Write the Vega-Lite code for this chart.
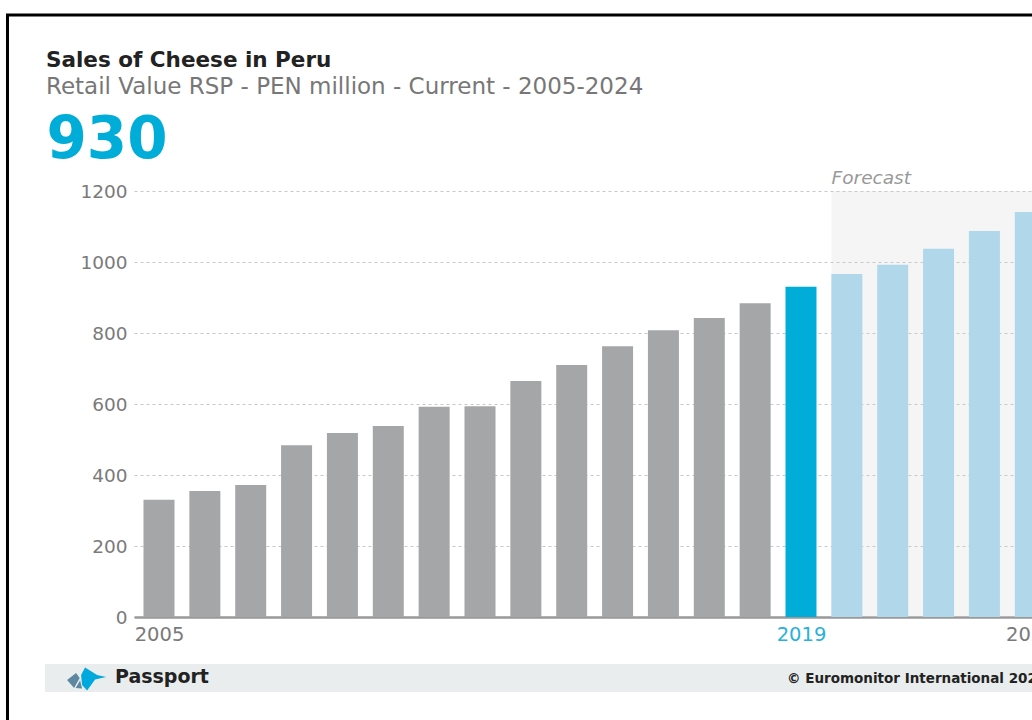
{
  "$schema": "https://vega.github.io/schema/vega-lite/v6.json",
  "width": 898,
  "height": 426,
  "autosize": {"type": "none"},
  "padding": {"left": 134, "top": 191, "right": 0, "bottom": 103},
  "background": "white",
  "config": {"view": {"stroke": null}, "font": "DejaVu Sans"},
  "title": {
    "text": "Sales of Cheese in Peru",
    "subtitle": "Retail Value RSP - PEN million - Current - 2005-2024",
    "anchor": "start",
    "frame": "group",
    "dx": -88,
    "dy": 96,
    "font": "DejaVu Sans",
    "fontSize": 21.5,
    "fontWeight": "bold",
    "color": "#222222",
    "subtitleFont": "DejaVu Sans",
    "subtitleFontSize": 23,
    "subtitleColor": "#777777",
    "subtitlePadding": 5,
    "offset": 10
  },
  "layer": [
    {
      "data": {"values": [{"k": 1}]},
      "mark": {"type": "rect", "fill": null, "stroke": "#000000", "strokeWidth": 3},
      "encoding": {
        "x": {"datum": 2001.696, "type": "quantitative"},
        "x2": {"datum": 2030},
        "y": {"datum": 1695.8, "type": "quantitative"},
        "y2": {"datum": -400}
      }
    },
    {
      "data": {"values": [{"k": 1}]},
      "mark": {"type": "rect", "fill": "#e9eded"},
      "encoding": {
        "x": {"datum": 2002.514, "type": "quantitative"},
        "x2": {"datum": 2030},
        "y": {"datum": -132.4, "type": "quantitative"},
        "y2": {"datum": -211.3}
      }
    },
    {
      "data": {"values": [{"k": 1}]},
      "mark": {"type": "point", "filled": true, "size": 1600, "opacity": 1, "color": "#5e87a0", "shape": "M -0.95 0.05 L -0.5 -0.3 L -0.32 -0.05 L -0.6 0.45 Z M -0.3 0.08 L -0.2 0.47 L -0.52 0.45 Z"},
      "encoding": {
        "x": {"datum": 2003.41, "type": "quantitative"},
        "y": {"datum": -174.6, "type": "quantitative"}
      }
    },
    {
      "data": {"values": [{"k": 1}]},
      "mark": {"type": "point", "filled": true, "size": 1600, "opacity": 1, "color": "#00a9dd", "shape": "M -0.25 -0.2 L -0.05 -0.58 L 0.55 -0.2 L 1 -0.1 L 0.45 0.02 L 0.05 0.58 L -0.2 0.3 Z"},
      "encoding": {
        "x": {"datum": 2003.41, "type": "quantitative"},
        "y": {"datum": -174.6, "type": "quantitative"}
      }
    },
    {
      "data": {"values": [{"k": 1}]},
      "mark": {"type": "text", "text": "Passport", "font": "DejaVu Sans", "fontSize": 19, "fontWeight": "bold", "color": "#222222", "align": "left", "baseline": "alphabetic"},
      "encoding": {
        "x": {"datum": 2004.04, "type": "quantitative"},
        "y": {"datum": -186, "type": "quantitative"}
      }
    },
    {
      "data": {"values": [{"k": 1}]},
      "mark": {"type": "text", "text": "© Euromonitor International 2020", "font": "DejaVu Sans", "fontSize": 13.5, "fontWeight": "bold", "color": "#222222", "align": "left", "baseline": "alphabetic"},
      "encoding": {
        "x": {"datum": 2018.695, "type": "quantitative"},
        "y": {"datum": -186.5, "type": "quantitative"}
      }
    },
    {
      "data": {"values": [{"k": 1}]},
      "mark": {"type": "rect", "fill": "#cccccc", "fillOpacity": 0.2},
      "encoding": {
        "x": {"datum": 2019.665, "type": "quantitative"},
        "x2": {"datum": 2030},
        "y": {"datum": 0, "type": "quantitative"},
        "y2": {"datum": 1200}
      }
    },
    {
      "data": {"values": [{"k": 1}]},
      "mark": {"type": "text", "text": "Forecast", "font": "DejaVu Sans", "fontSize": 18.5, "fontStyle": "italic", "color": "#999999", "align": "left", "baseline": "alphabetic", "dy": -7},
      "encoding": {
        "x": {"datum": 2019.667, "type": "quantitative"},
        "y": {"datum": 1200, "type": "quantitative"}
      }
    },
    {
      "data": {
        "values": [
          {"year": 2005, "value": 330, "status": "Historic"},
          {"year": 2006, "value": 355, "status": "Historic"},
          {"year": 2007, "value": 372, "status": "Historic"},
          {"year": 2008, "value": 484, "status": "Historic"},
          {"year": 2009, "value": 518, "status": "Historic"},
          {"year": 2010, "value": 538, "status": "Historic"},
          {"year": 2011, "value": 592, "status": "Historic"},
          {"year": 2012, "value": 594, "status": "Historic"},
          {"year": 2013, "value": 665, "status": "Historic"},
          {"year": 2014, "value": 710, "status": "Historic"},
          {"year": 2015, "value": 763, "status": "Historic"},
          {"year": 2016, "value": 808, "status": "Historic"},
          {"year": 2017, "value": 842, "status": "Historic"},
          {"year": 2018, "value": 884, "status": "Historic"},
          {"year": 2019, "value": 930, "status": "Current"},
          {"year": 2020, "value": 966, "status": "Forecast"},
          {"year": 2021, "value": 992, "status": "Forecast"},
          {"year": 2022, "value": 1037, "status": "Forecast"},
          {"year": 2023, "value": 1087, "status": "Forecast"},
          {"year": 2024, "value": 1141, "status": "Forecast"}
        ]
      },
      "mark": {"type": "bar", "width": 31},
      "encoding": {
        "x": {
          "field": "year",
          "type": "quantitative",
          "scale": {"domain": [2004.4548, 2024.0374], "nice": false, "zero": false, "padding": 0},
          "axis": {
            "title": null,
            "values": [2005, 2019, 2024],
            "format": "d",
            "ticks": false,
            "grid": false,
            "labelFlush": false,
            "labelOverlap": false,
            "labelBound": false,
            "labelPadding": 8,
            "labelFont": "DejaVu Sans",
            "labelFontSize": 19.5,
            "labelColor": {"condition": {"test": "datum.value == 2019", "value": "#29b0dc"}, "value": "#7a7a7a"},
            "domainColor": "#999999",
            "domainWidth": 2.5
          }
        },
        "y": {
          "field": "value",
          "type": "quantitative",
          "scale": {"domain": [0, 1200], "nice": false, "padding": 0},
          "axis": {
            "title": "930",
            "titleAngle": 0,
            "titleX": -88,
            "titleY": -34,
            "titleAlign": "left",
            "titleBaseline": "alphabetic",
            "titleFont": "DejaVu Sans",
            "titleFontSize": 58,
            "titleFontWeight": "bold",
            "titleColor": "#00acd8",
            "values": [0, 200, 400, 600, 800, 1000, 1200],
            "format": "d",
            "grid": true,
            "ticks": false,
            "domain": false,
            "labelPadding": 7,
            "labelFont": "DejaVu Sans",
            "labelFontSize": 18.5,
            "labelColor": "#7a7a7a",
            "gridColor": "#c8c8c8",
            "gridDash": [3, 3],
            "gridWidth": 1
          }
        },
        "color": {
          "field": "status",
          "type": "nominal",
          "scale": {"domain": ["Historic", "Current", "Forecast"], "range": ["#a5a6a8", "#00acd8", "#b1d8ea"]},
          "legend": null
        }
      }
    }
  ]
}
